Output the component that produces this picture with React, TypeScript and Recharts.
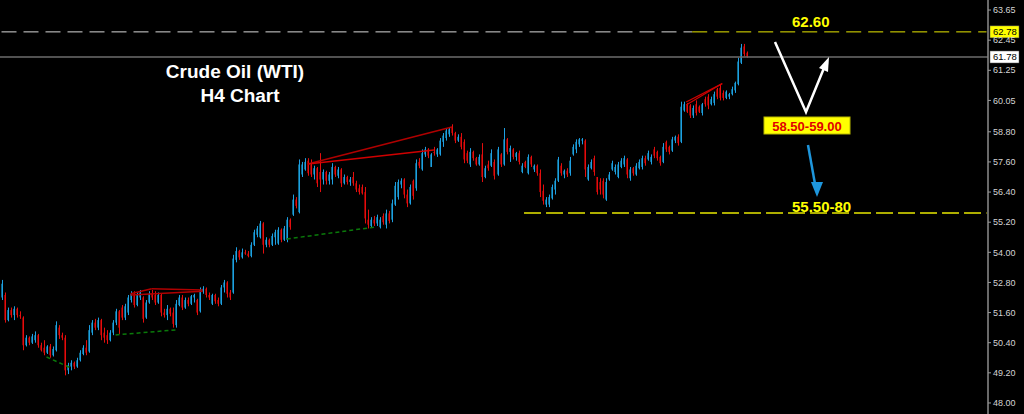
import React from "react"
import { ComposedChart, Bar, XAxis, YAxis, ReferenceLine } from "recharts"

// OHLC rows: [open, high, low, close], H4 bars left to right
const legA: [number, number, number, number][] = [
  [52.2, 52.9, 52.1, 52.75], [52.3, 52.4, 51.2, 51.3], [51.3, 51.8, 51.25, 51.7], [51.7, 51.8, 51.4, 51.5],
  [51.5, 51.85, 51.3, 51.75], [51.75, 51.8, 51.4, 51.5], [51.5, 51.65, 51.35, 51.45], [51.4, 51.45, 50.1, 50.3],
  [50.3, 50.7, 50.25, 50.6], [50.6, 50.65, 50.3, 50.4], [50.4, 50.75, 50.35, 50.65], [50.5, 50.85, 50.4, 50.7],
  [50.7, 50.75, 50.2, 50.3], [50.3, 50.4, 50.05, 50.1], [50.2, 50.5, 49.9, 50.0], [50.0, 50.3, 49.95, 50.25],
  [50.25, 50.35, 49.8, 49.9], [49.9, 50.25, 49.85, 50.15], [50.1, 51.25, 50.05, 51.1], [51.0, 51.1, 50.55, 50.7],
  [50.7, 50.8, 50.5, 50.6], [50.6, 50.7, 49.1, 49.3], [49.3, 49.6, 49.15, 49.5], [49.45, 49.7, 49.3, 49.6],
  [49.6, 49.65, 49.35, 49.45], [49.45, 49.8, 49.4, 49.7], [49.7, 50.1, 49.65, 50.0], [49.95, 50.3, 49.9, 50.2],
  [50.2, 50.5, 49.9, 50.0], [50.05, 51.1, 50.0, 50.9], [50.8, 51.3, 50.7, 51.2], [51.2, 51.35, 50.9, 51.0],
  [51.0, 51.4, 50.9, 51.3], [51.3, 51.35, 50.5, 50.7], [50.8, 51.0, 50.4, 50.6], [50.7, 50.9, 50.35, 50.5],
  [50.5, 50.9, 50.45, 50.8], [50.8, 51.3, 50.7, 51.2], [51.2, 51.75, 51.1, 51.65], [51.65, 51.7, 50.75, 51.0],
  [51.8, 51.9, 51.3, 51.4], [51.4, 51.95, 51.3, 51.85], [51.6, 52.3, 51.5, 52.2], [52.1, 52.45, 52.0, 52.35],
]

const legB: [number, number, number, number][] = [
  [52.35, 52.45, 51.8, 51.9], [51.9, 52.4, 51.85, 52.3], [52.2, 52.5, 52.1, 52.4], [52.2, 52.25, 51.2, 51.35],
  [51.4, 52.1, 51.35, 52.0], [52.0, 52.45, 51.95, 52.35], [52.35, 52.5, 52.1, 52.2], [52.3, 52.45, 51.9, 52.0],
  [52.0, 52.4, 51.95, 52.3], [52.3, 52.35, 51.45, 51.6], [51.6, 51.75, 51.4, 51.5], [51.5, 51.9, 51.3, 51.75],
  [51.75, 51.8, 51.45, 51.55], [51.6, 51.8, 51.0, 51.15], [51.1, 52.1, 51.0, 51.95], [51.9, 52.3, 51.85, 52.2],
  [52.2, 52.3, 51.7, 51.8], [51.8, 52.2, 51.75, 52.1], [52.1, 52.2, 51.85, 51.95], [51.95, 52.3, 51.9, 52.25],
  [52.2, 52.35, 52.0, 52.3], [52.1, 52.15, 51.5, 51.6], [51.65, 52.6, 51.6, 52.5], [52.45, 52.65, 52.35, 52.55],
  [52.55, 52.6, 52.2, 52.3], [52.3, 52.4, 52.1, 52.2], [51.95, 52.35, 51.9, 52.3], [52.3, 52.35, 51.95, 52.05],
  [52.1, 52.2, 51.85, 51.95], [51.95, 52.7, 51.9, 52.6], [52.6, 52.9, 52.4, 52.8], [52.8, 52.85, 52.2, 52.35],
  [52.4, 52.5, 52.1, 52.2], [52.4, 53.9, 52.35, 53.75], [53.7, 54.2, 53.6, 54.05], [54.05, 54.1, 53.7, 53.8],
  [53.8, 54.15, 53.75, 54.0], [54.0, 54.1, 53.9, 53.95], [53.95, 54.05, 53.8, 53.85], [53.85, 54.4, 53.8, 54.3],
  [54.3, 54.9, 54.25, 54.8], [54.7, 55.05, 54.6, 54.95], [54.6, 55.25, 54.55, 55.15], [55.15, 55.2, 53.95, 54.3],
  [54.3, 54.6, 54.2, 54.5], [54.5, 54.55, 54.2, 54.3], [54.3, 54.75, 54.25, 54.65], [54.6, 54.9, 54.3, 54.8],
  [54.35, 55.0, 54.3, 54.9], [54.9, 54.95, 54.4, 54.5], [54.5, 55.05, 54.45, 54.95], [54.5, 55.4, 54.4, 55.3],
  [55.3, 55.35, 54.9, 55.0], [55.5, 56.3, 55.45, 56.1], [56.1, 56.2, 55.75, 55.85], [55.6, 57.7, 55.55, 57.5],
]

const legC: [number, number, number, number][] = [
  [57.1, 57.6, 57.0, 57.5], [57.3, 57.75, 57.25, 57.6], [57.65, 57.75, 57.05, 57.15], [57.5, 57.7, 57.0, 57.1],
  [57.1, 57.45, 56.9, 57.35], [57.35, 57.4, 56.6, 56.75], [57.2, 57.95, 56.4, 56.9], [56.9, 57.3, 56.7, 57.2],
  [57.2, 57.25, 56.7, 56.85], [56.85, 57.2, 56.7, 57.1], [56.9, 57.55, 56.7, 57.4], [57.4, 57.45, 57.0, 57.1],
  [57.05, 57.4, 56.95, 57.3], [57.3, 57.35, 56.6, 56.75], [56.75, 57.1, 56.7, 57.0], [57.0, 57.05, 56.7, 56.8],
  [56.8, 57.0, 56.65, 56.9], [57.0, 57.2, 56.65, 56.75], [56.75, 56.85, 56.4, 56.5], [56.55, 56.7, 56.3, 56.4],
  [56.6, 56.7, 56.3, 56.35], [56.4, 56.6, 55.15, 55.35], [55.3, 55.7, 54.95, 55.1], [55.05, 55.4, 55.0, 55.3],
  [55.3, 55.45, 55.05, 55.15], [55.15, 55.5, 55.05, 55.4], [55.0, 55.4, 54.95, 55.3], [55.45, 55.55, 55.1, 55.2],
  [55.1, 55.7, 54.95, 55.55], [55.55, 55.65, 55.15, 55.25], [55.3, 56.1, 55.2, 55.95], [55.9, 56.8, 55.85, 56.65],
  [56.2, 56.9, 56.1, 56.8], [56.7, 56.95, 56.55, 56.85], [56.9, 56.95, 56.15, 56.3], [56.3, 56.5, 55.8, 55.95],
  [55.95, 56.7, 55.9, 56.6], [56.85, 56.9, 56.1, 56.25], [56.55, 57.7, 56.45, 57.55], [57.6, 57.75, 57.35, 57.45],
  [57.3, 58.1, 57.25, 57.95], [57.9, 58.2, 57.8, 58.1], [58.1, 58.15, 57.75, 57.85], [57.4, 57.95, 57.4, 57.9],
  [58.0, 58.2, 57.85, 57.95], [57.9, 58.15, 57.8, 58.1], [57.9, 58.55, 57.85, 58.45], [58.4, 58.75, 58.2, 58.65],
  [58.55, 58.95, 58.45, 58.85], [58.7, 58.98, 58.6, 58.9], [59.0, 59.1, 58.65, 58.75], [58.75, 58.8, 58.35, 58.45],
  [58.45, 58.7, 58.4, 58.6],
]

const legD: [number, number, number, number][] = [
  [58.6, 58.75, 58.1, 58.2], [58.4, 58.5, 57.55, 57.7], [57.95, 58.05, 57.55, 57.65], [57.5, 58.15, 57.4, 58.0],
  [58.0, 58.05, 57.65, 57.75], [57.75, 57.8, 57.45, 57.5], [57.5, 57.9, 57.45, 57.8], [57.9, 58.35, 56.8, 57.0],
  [57.0, 57.45, 56.95, 57.35], [57.5, 57.65, 57.25, 57.35], [57.45, 58.1, 57.4, 57.95], [57.6, 57.7, 56.9, 57.05],
  [57.1, 58.2, 57.05, 58.1], [57.9, 57.95, 57.4, 57.5], [57.5, 58.95, 57.45, 58.5], [58.5, 58.55, 57.9, 58.0],
  [58.0, 58.25, 57.6, 58.15], [58.1, 58.15, 57.7, 57.8], [57.8, 58.0, 57.65, 57.95], [57.95, 58.05, 57.5, 57.6],
  [57.2, 57.55, 57.15, 57.45], [57.6, 57.65, 57.35, 57.4], [57.15, 57.9, 57.1, 57.8], [57.8, 57.85, 57.4, 57.5],
  [57.3, 57.5, 57.2, 57.45], [57.45, 57.5, 57.05, 57.15], [57.15, 57.3, 56.2, 56.4], [56.45, 56.7, 55.9, 56.05],
  [55.9, 56.2, 55.8, 56.1], [55.9, 56.3, 55.8, 56.2], [56.15, 56.7, 56.1, 56.6], [56.5, 56.95, 56.3, 56.85],
  [56.85, 57.8, 56.8, 57.7],
]

const legE: [number, number, number, number][] = [
  [57.45, 57.55, 57.05, 57.15], [57.1, 57.3, 56.95, 57.25], [57.25, 57.35, 57.0, 57.1], [57.15, 57.8, 57.05, 57.65],
  [57.9, 58.3, 57.85, 58.2], [58.1, 58.5, 57.95, 58.4], [58.3, 58.55, 58.2, 58.5], [58.45, 58.55, 58.3, 58.5],
  [58.45, 58.5, 57.0, 57.3], [56.9, 57.5, 56.85, 57.4], [57.35, 57.7, 57.3, 57.6], [57.75, 57.85, 57.05, 57.2],
  [57.0, 57.0, 56.3, 56.4], [56.8, 56.95, 56.3, 56.5], [56.85, 56.95, 56.15, 56.3], [56.1, 56.95, 56.05, 56.8],
  [56.9, 57.2, 56.85, 57.1], [57.3, 57.65, 57.25, 57.55], [57.2, 57.5, 57.1, 57.4], [57.0, 57.6, 56.95, 57.5],
  [57.4, 57.75, 57.35, 57.65], [57.5, 57.85, 57.4, 57.75], [57.7, 57.75, 56.95, 57.1], [56.95, 57.4, 56.85, 57.3],
  [57.35, 57.4, 57.05, 57.15], [57.1, 57.55, 57.05, 57.45], [57.35, 57.7, 57.3, 57.6], [57.4, 57.85, 57.3, 57.75],
  [57.75, 57.85, 57.45, 57.55], [57.7, 58.05, 57.65, 57.95], [57.6, 57.9, 57.5, 57.8], [58.1, 58.2, 57.75, 57.85],
  [58.0, 58.05, 57.65, 57.75], [57.8, 57.85, 57.45, 57.55], [57.6, 58.35, 57.55, 58.2], [58.4, 58.45, 58.0, 58.1],
  [58.2, 58.25, 57.9, 58.0], [58.05, 58.6, 58.0, 58.5], [58.45, 58.65, 58.35, 58.6], [58.6, 58.7, 58.25, 58.35],
  [58.4, 60.0, 58.35, 59.8],
]

const legF: [number, number, number, number][] = [
  [59.65, 60.0, 59.6, 59.9], [59.9, 59.95, 59.55, 59.6], [59.85, 59.9, 59.35, 59.45], [59.45, 59.85, 59.35, 59.75],
  [59.9, 60.05, 59.45, 59.55], [59.8, 59.85, 59.55, 59.6], [59.55, 59.95, 59.45, 59.9], [60.1, 60.2, 59.8, 59.9],
  [60.2, 60.3, 59.7, 59.85], [59.9, 60.2, 59.85, 60.1], [59.95, 60.4, 59.85, 60.3], [60.5, 60.55, 60.1, 60.2],
  [60.55, 60.7, 60.05, 60.15], [60.35, 60.45, 60.05, 60.15], [60.15, 60.45, 60.1, 60.4], [60.2, 60.35, 60.1, 60.3],
  [60.3, 60.6, 60.25, 60.5], [60.45, 60.8, 60.35, 60.75], [60.7, 61.75, 60.65, 61.6], [61.55, 62.3, 61.5, 62.15],
  [62.2, 62.3, 61.8, 61.9], [61.95, 62.0, 61.75, 61.78],
]

const priceTicks = [63.65, 62.45, 61.25, 60.05, 58.8, 57.6, 56.4, 55.2, 54.0, 52.8, 51.6, 50.4, 49.2, 48.0]
const resistance = 62.78
const lastPrice = 61.78
const support = 55.57
const totalSlots = 329

const bars = [...legA, ...legB, ...legC, ...legD, ...legE, ...legF]
const data = Array.from({ length: totalSlots }, (_, i) => {
  const b = bars[i]
  if (!b) return { i }
  return { i, o: b[0], h: b[1], l: b[2], c: b[3], range: [b[2], b[1]] }
})

const BLUE = "#1e9fe2"
const BLUE_BODY = "#0d6788"
const RED = "#e30e0e"
const RED_BODY = "#8a0000"
const YELLOW = "#e8e800"
const FONT = "'Liberation Sans', Arial, sans-serif"

function Candle(props: any) {
  const { x, y, width, height, payload } = props
  if (!payload || payload.h == null) return null
  const { o, h, l, c } = payload
  const span = h - l || 1
  const toY = (p: number) => y + ((h - p) / span) * height
  const up = c >= o
  const cx = Math.round(x + width / 2)
  const top = toY(Math.max(o, c))
  const bot = toY(Math.min(o, c))
  return (
    <g>
      <rect x={cx - 1} y={top} width={2} height={Math.max(1, bot - top)} fill={up ? BLUE_BODY : RED_BODY} />
      <line x1={cx + 0.5} x2={cx + 0.5} y1={y} y2={y + height} stroke={up ? BLUE : RED} strokeWidth={1} />
    </g>
  )
}

const priceTag = (value: number, bg: string) => (props: any) => {
  const vb = props.viewBox || {}
  const tx = (vb.x || 0) + (vb.width || 0) + 2
  const ty = vb.y || 0
  return (
    <g>
      <rect x={tx} y={ty - 6} width={29} height={12} fill={bg} stroke="#555" strokeWidth={0.5} />
      <text x={tx + 3} y={ty + 3.5} fontSize={9.5} fontFamily={FONT} fill="#000">
        {value.toFixed(2)}
      </text>
    </g>
  )
}

export default function App() {
  return (
    <div style={{ position: "absolute", top: 0, left: 0, width: 1024, height: 414, background: "#000", overflow: "hidden" }}>
      <ComposedChart width={1024} height={414} data={data} margin={{ top: 0, right: 0, bottom: 0, left: 0 }} barSize={2}>
        <XAxis dataKey="i" hide />
        <YAxis
          orientation="right"
          type="number"
          width={36}
          domain={[47.56, 64.05]}
          allowDataOverflow
          ticks={priceTicks}
          interval={0}
          tickFormatter={(v: number) => v.toFixed(2)}
          tick={{ fill: "#d4d4d4", fontSize: 9, fontFamily: FONT }}
          tickSize={3}
          tickLine={{ stroke: "#9a9a9a" }}
          axisLine={{ stroke: "#8c8c8c", strokeWidth: 1.5 }}
        />

        <ReferenceLine y={lastPrice} stroke="#6c6c6c" strokeWidth={1.5} label={priceTag(lastPrice, "#ffffff")} />
        <ReferenceLine segment={[{ x: 0, y: resistance }, { x: 230, y: resistance }]} stroke="#d8d8d8" strokeDasharray="15 7" />
        <ReferenceLine segment={[{ x: 230, y: resistance }, { x: totalSlots - 1, y: resistance }]} stroke={YELLOW} strokeDasharray="15 7" />
        <ReferenceLine y={resistance} stroke="none" label={priceTag(resistance, "#ffff00")} />
        <ReferenceLine segment={[{ x: 174, y: support }, { x: totalSlots - 1, y: support }]} stroke={YELLOW} strokeWidth={1.5} strokeDasharray="17 5" />

        {/* trend lines */}
        <ReferenceLine segment={[{ x: 102, y: 57.52 }, { x: 150, y: 58.99 }]} stroke="#b00000" strokeWidth={1.5} />
        <ReferenceLine segment={[{ x: 102, y: 57.52 }, { x: 144, y: 58.08 }]} stroke="#d00000" strokeWidth={1.5} />
        <ReferenceLine segment={[{ x: 228, y: 59.99 }, { x: 240, y: 60.72 }]} stroke="#d00000" strokeWidth={1.2} />
        <ReferenceLine segment={[{ x: 228, y: 59.87 }, { x: 240, y: 60.72 }]} stroke="#d00000" strokeWidth={1.2} />
        <ReferenceLine segment={[{ x: 43, y: 52.35 }, { x: 50, y: 52.55 }]} stroke="#b00000" strokeWidth={1.5} />
        <ReferenceLine segment={[{ x: 50, y: 52.55 }, { x: 67, y: 52.5 }]} stroke="#b00000" strokeWidth={1.5} />
        <ReferenceLine segment={[{ x: 43, y: 52.3 }, { x: 67, y: 52.45 }]} stroke="#b00000" strokeWidth={1.5} />
        <ReferenceLine segment={[{ x: 15, y: 49.83 }, { x: 23, y: 49.4 }]} stroke="#0a7a0a" strokeWidth={1.5} strokeDasharray="4 3" />
        <ReferenceLine segment={[{ x: 38, y: 50.71 }, { x: 58, y: 50.91 }]} stroke="#0a7a0a" strokeWidth={1.5} strokeDasharray="4 3" />
        <ReferenceLine segment={[{ x: 95, y: 54.53 }, { x: 124, y: 55.0 }]} stroke="#0a7a0a" strokeWidth={1.5} strokeDasharray="4 3" />

        <Bar dataKey="range" shape={Candle} isAnimationActive={false} />
      </ComposedChart>

      <svg width={1024} height={414} style={{ position: "absolute", top: 0, left: 0, pointerEvents: "none" }}>
        <g fontFamily={FONT} fontWeight="bold">
          <text x={235} y={78} fontSize={19} fill="#fff" textAnchor="middle">Crude Oil (WTI)</text>
          <text x={240} y={102} fontSize={19} fill="#fff" textAnchor="middle">H4 Chart</text>
          <text x={792} y={27} fontSize={15} fill="#ffff00">62.60</text>
          <text x={792} y={212} fontSize={15} fill="#ffff00">55.50-80</text>
          <rect x={764} y={117} width={86} height={17} fill="#ffff00" stroke="#b8b800" />
          <text x={807} y={131} fontSize={13} fill="#e00000" textAnchor="middle">58.50-59.00</text>
        </g>
        <polyline points="775,42 806,112 824,68" fill="none" stroke="#fff" strokeWidth={2.5} />
        <polygon points="829,57 819,68 828,72" fill="#fff" />
        <line x1={808} y1={145} x2={815} y2={184} stroke="#1e96dc" strokeWidth={2.5} />
        <polygon points="817,197 811,182 823,182" fill="#1e96dc" />
      </svg>
    </div>
  )
}
